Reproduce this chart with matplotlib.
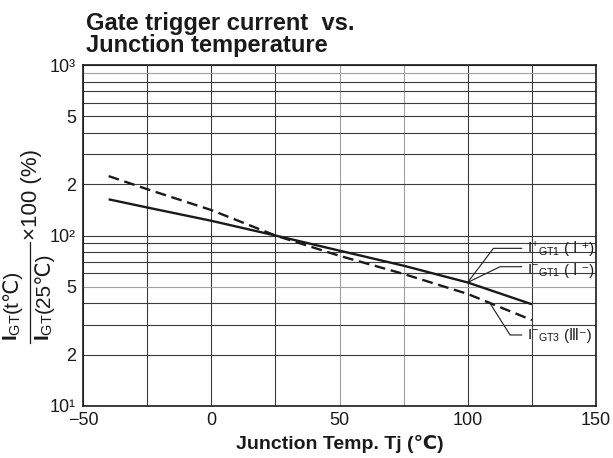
import matplotlib
matplotlib.use('Agg')
import matplotlib.pyplot as plt
from matplotlib.transforms import IdentityTransform
from matplotlib.ticker import NullLocator
from matplotlib.lines import Line2D

plt.rcParams['font.family'] = ['Liberation Sans', 'DejaVu Sans', 'Noto Sans CJK JP']
plt.rcParams['mathtext.fontset'] = 'custom'
plt.rcParams['mathtext.rm'] = 'Liberation Sans'
plt.rcParams['mathtext.bf'] = 'Liberation Sans:bold'
plt.rcParams['mathtext.it'] = 'Liberation Sans:italic'

# ---- data ----
temp_igt1 = [-40, -25, 0, 25, 50, 75, 100, 125]
igt1 = [163, 146, 122, 100, 81.5, 66.5, 53, 39.5]
temp_igt3 = [-40, -25, 0, 25, 50, 75, 100, 125]
igt3 = [223, 187, 141, 100, 76, 59.5, 45.4, 31.9]

x_ticks = [-50, 0, 50, 100, 150]
x_ticklabels = ['\u221250', '0', '50', '100', '150']
x_grid = [-50, -25, 0, 25, 50, 75, 100, 125, 150]
y_ticks = [10, 20, 50, 100, 200, 500, 1000]
y_ticklabels = ['10\u00b9', '2', '5', '10\u00b2', '2', '5', '10\u00b3']
y_grid = [m * d for d in (10, 100) for m in range(1, 10)] + [1000]

title_lines = ['Gate trigger current  vs.', 'Junction temperature']
x_label = 'Junction Temp. Tj (\u2103)'

W, H = 613, 458
fig = plt.figure(figsize=(W / 100, H / 100), dpi=100)
ax = fig.add_axes([83 / W, 1 - 406 / H, (596 - 83) / W, (406 - 65) / H])
ax.set_yscale('log')
ax.set_xlim(-50, 150)
ax.set_ylim(10, 1000)

light_x = {50, 75}
light_y = {50, 900}
for v in x_grid:
    ax.axvline(v, color='#a0a0a0' if v in light_x else '#3c3c3c', lw=0.8, zorder=1)
for v in y_grid:
    ax.axhline(v, color='#a0a0a0' if v in light_y else '#3c3c3c', lw=0.8, zorder=1)

for s in ax.spines.values():
    s.set_linewidth(1.2)
    s.set_color('#1a1a1a')
    s.set_zorder(4)

ax.set_xticks(x_ticks, x_ticklabels)
ax.set_yticks(y_ticks, y_ticklabels)
ax.yaxis.set_minor_locator(NullLocator())
ax.tick_params(axis='both', length=0, labelsize=13, colors='#1a1a1a')
ax.tick_params(axis='x', pad=4)
ax.tick_params(axis='y', pad=5)

ax.plot(temp_igt1, igt1, color='#1a1a1a', lw=1.7, zorder=3, solid_capstyle='butt')
ax.plot(temp_igt3, igt3, color='#1a1a1a', lw=1.7, zorder=3, dashes=(4.6, 2.4))

# leader lines
leaders = [
    ([121.0, 110.0, 100.2], [84.1, 84.1, 53.6]),
    ([121.0, 112.6, 100.6], [65.6, 65.6, 53.6]),
    ([121.0, 116.5, 108.7], [26.1, 26.1, 40.0]),
]
for lx, ly in leaders:
    ax.plot(lx, ly, color='#1a1a1a', lw=0.8, zorder=3)

renderer = fig.canvas.get_renderer()
ident = IdentityTransform()


def chain(x, y, pieces, rotation=0):
    for s, kw in pieces:
        t = fig.text(x, y, s, transform=ident, rotation=rotation,
                     rotation_mode='anchor', ha='left', va='baseline',
                     color='#1a1a1a', **kw)
        bb = t.get_window_extent(renderer)
        if rotation == 0:
            x = bb.x1
        else:
            y = bb.y1


# curve labels (anchor: data x, baseline data y)
curve_labels = [
    (123.0, 78.9, r'$\mathrm{I}^{+}{}_{\mathrm{GT1}}$', ' ( \u2160 \u207a)'),
    (123.0, 58.6, r'$\mathrm{I}^{-}{}_{\mathrm{GT1}}$', ' ( \u2160 \u207b)'),
    (123.0, 24.4, r'$\mathrm{I}^{-}{}_{\mathrm{GT3}}$', ' (\u2162\u207b)'),
]
for tx, ty, main, tail in curve_labels:
    px, py = ax.transData.transform((tx, ty))
    chain(px, py, [(main, dict(fontsize=11)), (tail, dict(fontsize=10.5))])

# title
fig.text(86, H - 30, title_lines[0], transform=ident, fontsize=17,
         fontweight='bold', va='baseline', ha='left', color='#1a1a1a')
fig.text(86, H - 52, title_lines[1], transform=ident, fontsize=17,
         fontweight='bold', va='baseline', ha='left', color='#1a1a1a')

# x label
fig.text(340, H - 449, x_label, transform=ident, fontsize=14,
         fontweight='bold', va='baseline', ha='center', color='#1a1a1a')

# y label (fraction)
chain(18, H - 341, [(r'$\mathbf{I}_{\mathrm{GT}}$', dict(fontsize=15)),
                    ('(t\u2103)', dict(fontsize=15))], rotation=90)
chain(50, H - 341, [(r'$\mathbf{I}_{\mathrm{GT}}$', dict(fontsize=15)),
                    ('(25\u2103)', dict(fontsize=15))], rotation=90)
fig.add_artist(Line2D([30, 30], [H - 343, H - 242], transform=ident,
                      color='#1a1a1a', lw=0.9))
chain(37, H - 240, [('\u00d7100 (%)', dict(fontsize=16))], rotation=90)

fig.savefig('out.png', dpi=100)
